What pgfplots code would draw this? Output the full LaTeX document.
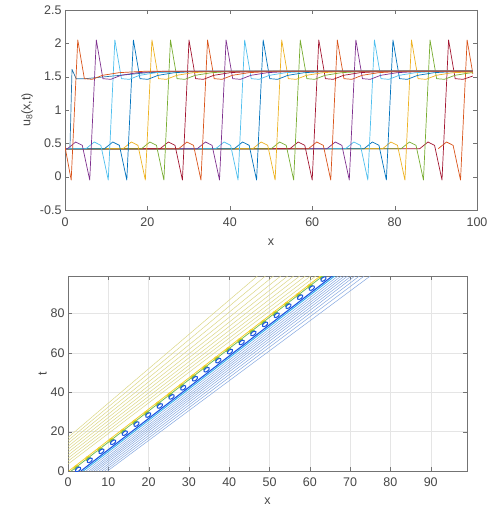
\documentclass[border=0pt]{standalone}
\usepackage{fontspec}
\setmainfont{Liberation Sans}
\usepackage{pgfplots}
\pgfplotsset{compat=1.18}

% MATLAB default line colours
\definecolor{mA}{rgb}{0,0.447,0.741}
\definecolor{mB}{rgb}{0.85,0.325,0.098}
\definecolor{mC}{rgb}{0.929,0.694,0.125}
\definecolor{mD}{rgb}{0.494,0.184,0.556}
\definecolor{mE}{rgb}{0.466,0.674,0.188}
\definecolor{mF}{rgb}{0.301,0.745,0.933}
\definecolor{mG}{rgb}{0.635,0.078,0.184}
% contour colours
\definecolor{paleY}{rgb}{0.86,0.84,0.52}
\definecolor{paleB}{rgb}{0.52,0.66,0.88}
\definecolor{cBlue}{rgb}{0.10,0.33,0.88}
\definecolor{cCyan}{rgb}{0.15,0.68,0.93}
\definecolor{cGreen}{rgb}{0.45,0.74,0.32}
\definecolor{cYel}{rgb}{0.96,0.82,0.18}
\definecolor{axgray}{rgb}{0.45,0.45,0.45}
\definecolor{txtgray}{rgb}{0.28,0.28,0.28}

\pgfplotsset{
  mlab/.style={
    scale only axis,
    axis line style={draw=axgray},
    tick style={draw=axgray},
    major tick length=4pt,
    ticklabel style={text=txtgray},
    label style={text=txtgray},
    /pgf/number format/assume math mode=true,
    font=\fontsize{12.5}{14}\selectfont,
    clip marker paths=true,
  },
  u/.style={line width=0.7pt, line join=round},
}

% centres of the closed contours along the front (x, t)
\pgfplotstableread{
x t
2.5 0.79
5.4 5.40
8.3 10.00
11.2 14.60
14.1 19.21
17.0 23.81
19.9 28.41
22.8 33.02
25.7 37.62
28.6 42.22
31.5 46.83
34.4 51.43
37.3 56.03
40.2 60.63
43.1 65.24
46.0 69.84
48.9 74.44
51.8 79.05
54.7 83.65
57.6 88.25
60.5 92.86
63.4 97.46
}\blobs

\begin{document}
\begin{tikzpicture}
\useasboundingbox (0,0) rectangle (491pt,-510pt);

% ---------- top: profiles u_8(x,t) ----------
\begin{axis}[mlab,
  at={(65pt,-210pt)}, anchor=south west,
  width=412pt, height=200pt,
  xmin=0, xmax=100, ymin=-0.5, ymax=2.5,
  xtick={0,20,40,60,80,100},
  ytick={-0.5,0,0.5,1,1.5,2,2.5},
  yticklabels={-0.5,0,0.5,1,1.5,2,2.5},
  xticklabel style={yshift=-4pt},
  xlabel={x}, ylabel={u\textsubscript{8}(x,t)},
  xlabel style={yshift=-6pt},
]
\addplot[u, mA!70!gray] coordinates {(0,0.42)(1.2,0.42)(1.7,1.61)(2.7,1.47)(5,1.47)(10,1.50)(20,1.56)(30,1.58)(99,1.58)};
\addplot[u, mB] coordinates {(90.6,0.42)(92.6,0.52)(94.2,0.47)(96.0,-0.05)(97.6,2.05)(99,1.54)};
\addplot[u, mG] coordinates {(0,0.42)(86.1,0.42)(88.1,0.52)(89.7,0.47)(91.5,-0.05)(93.1,2.05)(94.7,1.47)(96.6,1.46)(99,1.51)};
\addplot[u, mE] coordinates {(0,0.42)(81.6,0.42)(83.6,0.52)(85.2,0.47)(87.0,-0.05)(88.6,2.05)(90.2,1.47)(92.1,1.46)(94.6,1.52)(98.6,1.56)(99,1.56)};
\addplot[u, mC] coordinates {(0,0.42)(77.1,0.42)(79.1,0.52)(80.7,0.47)(82.5,-0.05)(84.1,2.05)(85.7,1.47)(87.6,1.46)(90.1,1.52)(94.1,1.56)(99,1.57)};
\addplot[u, mA] coordinates {(0,0.42)(72.6,0.42)(74.6,0.52)(76.2,0.47)(78.0,-0.05)(79.6,2.05)(81.2,1.47)(83.1,1.46)(85.6,1.52)(89.6,1.56)(95.6,1.58)(99,1.58)};
\addplot[u, mF] coordinates {(0,0.42)(68.1,0.42)(70.1,0.52)(71.7,0.47)(73.5,-0.05)(75.1,2.05)(76.7,1.47)(78.6,1.46)(81.1,1.52)(85.1,1.56)(91.1,1.58)(99,1.58)};
\addplot[u, mD] coordinates {(0,0.42)(63.6,0.42)(65.6,0.52)(67.2,0.47)(69.0,-0.05)(70.6,2.05)(72.2,1.47)(74.1,1.46)(76.6,1.52)(80.6,1.56)(86.6,1.58)(99,1.58)};
\addplot[u, mB] coordinates {(0,0.42)(59.1,0.42)(61.1,0.52)(62.7,0.47)(64.5,-0.05)(66.1,2.05)(67.7,1.47)(69.6,1.46)(72.1,1.52)(76.1,1.56)(82.1,1.58)(99,1.58)};
\addplot[u, mG] coordinates {(0,0.42)(54.6,0.42)(56.6,0.52)(58.2,0.47)(60.0,-0.05)(61.6,2.05)(63.2,1.47)(65.1,1.46)(67.6,1.52)(71.6,1.56)(77.6,1.58)(99,1.58)};
\addplot[u, mE] coordinates {(0,0.42)(50.1,0.42)(52.1,0.52)(53.7,0.47)(55.5,-0.05)(57.1,2.05)(58.7,1.47)(60.6,1.46)(63.1,1.52)(67.1,1.56)(73.1,1.58)(99,1.58)};
\addplot[u, mC] coordinates {(0,0.42)(45.6,0.42)(47.6,0.52)(49.2,0.47)(51.0,-0.05)(52.6,2.05)(54.2,1.47)(56.1,1.46)(58.6,1.52)(62.6,1.56)(68.6,1.58)(99,1.58)};
\addplot[u, mA] coordinates {(0,0.42)(41.1,0.42)(43.1,0.52)(44.7,0.47)(46.5,-0.05)(48.1,2.05)(49.7,1.47)(51.6,1.46)(54.1,1.52)(58.1,1.56)(64.1,1.58)(99,1.58)};
\addplot[u, mF] coordinates {(0,0.42)(36.6,0.42)(38.6,0.52)(40.2,0.47)(42.0,-0.05)(43.6,2.05)(45.2,1.47)(47.1,1.46)(49.6,1.52)(53.6,1.56)(59.6,1.58)(99,1.58)};
\addplot[u, mD] coordinates {(0,0.42)(32.1,0.42)(34.1,0.52)(35.7,0.47)(37.5,-0.05)(39.1,2.05)(40.7,1.47)(42.6,1.46)(45.1,1.52)(49.1,1.56)(55.1,1.58)(99,1.58)};
\addplot[u, mB] coordinates {(0,0.42)(27.6,0.42)(29.6,0.52)(31.2,0.47)(33.0,-0.05)(34.6,2.05)(36.2,1.47)(38.1,1.46)(40.6,1.52)(44.6,1.56)(50.6,1.58)(99,1.58)};
\addplot[u, mG] coordinates {(0,0.42)(23.1,0.42)(25.1,0.52)(26.7,0.47)(28.5,-0.05)(30.1,2.05)(31.7,1.47)(33.6,1.46)(36.1,1.52)(40.1,1.56)(46.1,1.58)(99,1.58)};
\addplot[u, mE] coordinates {(0,0.42)(18.6,0.42)(20.6,0.52)(22.2,0.47)(24.0,-0.05)(25.6,2.05)(27.2,1.47)(29.1,1.46)(31.6,1.52)(35.6,1.56)(41.6,1.58)(99,1.58)};
\addplot[u, mC] coordinates {(0,0.42)(14.1,0.42)(16.1,0.52)(17.7,0.47)(19.5,-0.05)(21.1,2.05)(22.7,1.47)(24.6,1.46)(27.1,1.52)(31.1,1.56)(37.1,1.58)(99,1.58)};
\addplot[u, mA] coordinates {(0,0.42)(9.6,0.42)(11.6,0.52)(13.2,0.47)(15.0,-0.05)(16.6,2.05)(18.2,1.47)(20.1,1.46)(22.6,1.52)(26.6,1.56)(32.6,1.58)(99,1.58)};
\addplot[u, mF] coordinates {(0,0.42)(5.1,0.42)(7.1,0.52)(8.7,0.47)(10.5,-0.05)(12.1,2.05)(13.7,1.47)(15.6,1.46)(18.1,1.52)(22.1,1.56)(28.1,1.58)(99,1.58)};
\addplot[u, mD] coordinates {(0,0.42)(0.6,0.42)(2.6,0.52)(4.2,0.47)(6.0,-0.05)(7.6,2.05)(9.2,1.47)(11.1,1.46)(13.6,1.52)(17.6,1.56)(23.6,1.58)(99,1.58)};
\addplot[u, mB] coordinates {(0,0.45)(1.5,-0.05)(3.1,2.05)(4.7,1.47)(6.6,1.46)(9.1,1.52)(13.1,1.56)(19.1,1.58)(99,1.58)};
\end{axis}

% ---------- bottom: contour of u(x,t) ----------
\begin{axis}[mlab,
  at={(68pt,-471pt)}, anchor=south west,
  width=399pt, height=195pt,
  xmin=0, xmax=99, ymin=0, ymax=99,
  xtick={0,10,...,90}, ytick={0,20,...,80},
  grid=major, grid style={draw=black!10, line width=0.4pt},
  xticklabel style={yshift=-3pt},
  xlabel={x}, ylabel={t},
  xlabel style={yshift=-5pt},
  ylabel style={yshift=-3pt},
]
% high-value levels behind the front
\addplot[paleY, line width=0.5pt] coordinates {(0,3.5)(61.5,99)};
\addplot[paleY, line width=0.5pt] coordinates {(0,5.0)(60.2,99)};
\addplot[paleY, line width=0.5pt] coordinates {(0,6.5)(58.9,99)};
\addplot[paleY, line width=0.5pt] coordinates {(0,8.0)(57.5,99)};
\addplot[paleY, line width=0.5pt] coordinates {(0,9.5)(56.0,99)};
\addplot[paleY, line width=0.5pt] coordinates {(0,11.0)(54.5,99)};
\addplot[paleY, line width=0.5pt] coordinates {(0,12.5)(52.8,99)};
\addplot[paleY, line width=0.5pt] coordinates {(0,14.0)(51.0,99)};
\addplot[paleY, line width=0.5pt] coordinates {(0,15.5)(49.0,99)};
\addplot[paleY, line width=0.5pt] coordinates {(0,17.0)(47.0,99)};
% low-value levels ahead of the front
\addplot[paleB, line width=0.5pt] coordinates {(4.5,0)(67.0,99)};
\addplot[paleB, line width=0.5pt] coordinates {(5.2,0)(67.8,99)};
\addplot[paleB, line width=0.5pt] coordinates {(5.8,0)(68.6,99)};
\addplot[paleB, line width=0.5pt] coordinates {(6.4,0)(69.4,99)};
\addplot[paleB, line width=0.5pt] coordinates {(7.0,0)(70.3,99)};
\addplot[paleB, line width=0.5pt] coordinates {(7.7,0)(71.2,99)};
\addplot[paleB, line width=0.5pt] coordinates {(8.4,0)(72.3,99)};
\addplot[paleB, line width=0.5pt] coordinates {(9.1,0)(73.5,99)};
\addplot[paleB, line width=0.5pt] coordinates {(9.8,0)(75.0,99)};
% the front
\addplot[cYel, line width=0.8pt] coordinates {(0.2,0)(62.6,99)};
\addplot[cGreen, line width=0.8pt] coordinates {(0.8,0)(63.2,99)};
\addplot[cCyan, line width=0.8pt] coordinates {(3.8,0)(66.2,99)};
\addplot[cBlue, line width=1.1pt] coordinates {(3.2,0)(65.6,99)};
\addplot[only marks, mark=*, mark size=1.5pt, color=cYel,
  mark options={xshift=-2.2pt, yshift=2.4pt, rotate=38, xscale=1.8}] table[x=x,y=t] {\blobs};
\addplot[only marks, mark=*, mark size=1.5pt, color=cGreen,
  mark options={xshift=-1.2pt, yshift=1.4pt, rotate=38, xscale=1.8}] table[x=x,y=t] {\blobs};
\addplot[only marks, mark=*, mark size=1.7pt,
  mark options={draw=cBlue, fill=white, line width=1pt, rotate=38, xscale=1.8}] table[x=x,y=t] {\blobs};
\end{axis}
\end{tikzpicture}
\end{document}
